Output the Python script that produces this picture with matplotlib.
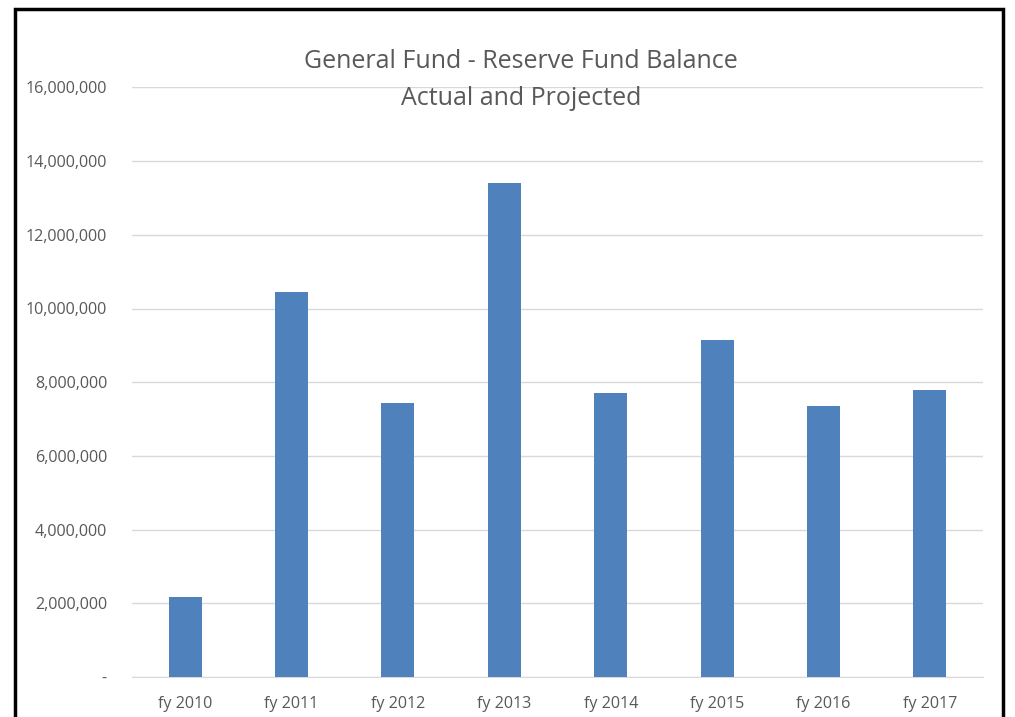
import matplotlib.pyplot as plt
from matplotlib.patches import Rectangle
from matplotlib.ticker import FuncFormatter

# data
years = ["fy 2010", "fy 2011", "fy 2012", "fy 2013", "fy 2014", "fy 2015", "fy 2016", "fy 2017"]
balance = [2180000, 10450000, 7440000, 13410000, 7710000, 9150000, 7350000, 7790000]
y_ticks = [0, 2000000, 4000000, 6000000, 8000000, 10000000, 12000000, 14000000, 16000000]

W, H = 1015, 717
fig = plt.figure(figsize=(W / 100, H / 100), dpi=100)
ax = fig.add_axes([132 / W, 1 - 677 / H, (983 - 132) / W, (677 - 87.4) / H])

ax.bar(range(len(years)), balance, width=0.31, color="#4F81BD", zorder=3)

ax.set_xlim(-0.5, len(years) - 0.5)
ax.set_ylim(0, 16000000)
ax.set_yticks(y_ticks)
ax.yaxis.set_major_formatter(FuncFormatter(lambda v, p: "-" if v == 0 else f"{int(v):,}"))
ax.set_xticks(range(len(years)))
ax.set_xticklabels(years)

ax.grid(axis="y", color="#D9D9D9", linewidth=1, zorder=0)
for s in ["top", "right", "left"]:
    ax.spines[s].set_visible(False)
ax.spines["bottom"].set_color("#D9D9D9")
ax.tick_params(length=0, colors="#595959", labelsize=11.6)
ax.tick_params(axis="y", pad=18)
ax.tick_params(axis="x", pad=13.5)
for lab in ax.get_xticklabels() + ax.get_yticklabels():
    lab.set_fontfamily("Open Sans")

fig.text(521 / W, 1 - 80 / H, "General Fund - Reserve Fund Balance\nActual and Projected",
         ha="center", va="center", fontsize=18, color="#595959",
         family="Open Sans", linespacing=1.65)

# black frame around the chart, open at the bottom
fig.add_artist(Rectangle((15 / W, -0.05), (1003 - 15) / W, 1.05 - 9 / H,
                         transform=fig.transFigure, fill=False,
                         edgecolor="black", linewidth=2.5))

fig.savefig("out.png", dpi=100)
